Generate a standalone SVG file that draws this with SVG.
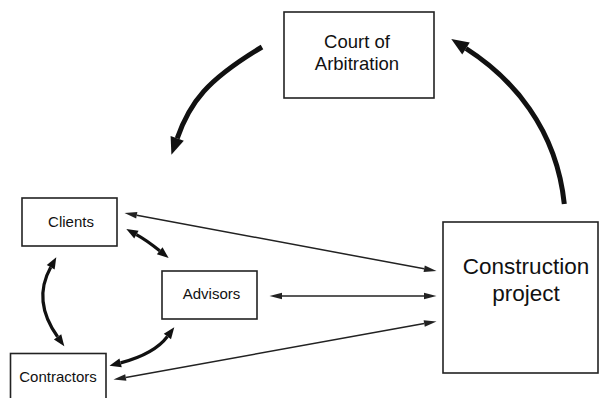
<svg xmlns="http://www.w3.org/2000/svg" width="603" height="398" viewBox="0 0 603 398">
<style>
.box{fill:#fff;stroke:#222;stroke-width:1.6}
.lbl{font-family:"Liberation Sans",Arial,sans-serif;fill:#111;text-anchor:middle}
.thin{fill:none;stroke:#222;stroke-width:1.5;marker-start:url(#hThin);marker-end:url(#hThin)}
.mid{fill:none;stroke:#111;stroke-width:3.2;marker-start:url(#hMid);marker-end:url(#hMid)}
.big{fill:none;stroke:#111;stroke-width:5;marker-end:url(#hBig)}
</style>
<defs>
<marker id="hThin" markerUnits="userSpaceOnUse" viewBox="0 -5 14 10" markerWidth="14" markerHeight="10" refX="0" refY="0" orient="auto-start-reverse" overflow="visible">
<path d="M0,-3.3 L12.5,0 L0,3.3 z" fill="#222"/>
</marker>
<marker id="hMid" markerUnits="userSpaceOnUse" viewBox="0 -6 14 12" markerWidth="14" markerHeight="12" refX="0" refY="0" orient="auto-start-reverse" overflow="visible">
<path d="M0,-4.5 L11.5,0 L0,4.5 z" fill="#111"/>
</marker>
<marker id="hBig" markerUnits="userSpaceOnUse" viewBox="0 -8 20 16" markerWidth="20" markerHeight="16" refX="0" refY="0" orient="auto" overflow="visible">
<path d="M0,-7 L17.5,0 L0,7 z" fill="#111"/>
</marker>
</defs>

<g id="connectors">
<line class="thin" x1="136.8" y1="215.2" x2="424.2" y2="268.8"/>
<line class="thin" x1="282" y1="296" x2="424" y2="296"/>
<line class="thin" x1="125.8" y1="377.4" x2="424.2" y2="323.6"/>
<path class="mid" d="M136.4,234.6 Q146.5,240.1 159.7,250.8"/>
<path class="mid" d="M50.7,267.3 Q32,301 57.6,336.8"/>
<path class="mid" d="M167.4,336.5 Q154.4,353.9 120.6,362.9"/>
<path class="big" d="M262,47 C207,80 190,102 177.2,138.3"/>
<path class="big" d="M564.3,204 C556.5,128 512,78 466,48.5"/>
</g>

<g id="court">
<rect class="box" x="284" y="12" width="150" height="86"/>
<text class="lbl" x="357" y="48" font-size="18.5">Court of</text>
<text class="lbl" x="357" y="70" font-size="18.5">Arbitration</text>
</g>

<g id="construction">
<rect class="box" x="443" y="222" width="155" height="151"/>
<text class="lbl" x="526" y="274" font-size="22.5">Construction</text>
<text class="lbl" x="526" y="301" font-size="22.5">project</text>
</g>

<g id="clients">
<rect class="box" x="22" y="198" width="95" height="48"/>
<text class="lbl" x="71" y="227" font-size="15">Clients</text>
</g>

<g id="advisors">
<rect class="box" x="162" y="271" width="95" height="48"/>
<text class="lbl" x="211.5" y="298.5" font-size="15">Advisors</text>
</g>

<g id="contractors">
<rect class="box" x="10.5" y="353.5" width="95.5" height="50"/>
<text class="lbl" x="58" y="382" font-size="15">Contractors</text>
</g>
</svg>
